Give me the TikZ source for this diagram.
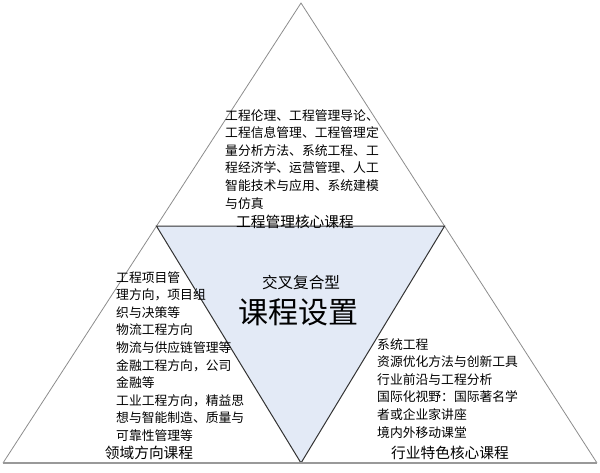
\documentclass[tikz,border=0pt]{standalone}
\usepackage{fontspec}
\setmainfont{Noto Sans CJK SC}
\usepackage{xcolor}
\usepackage{tikz}
\usetikzlibrary{calc}

\definecolor{coreblue}{RGB}{227,234,246}

\begin{document}
\begin{tikzpicture}[
    x=1pt, y=-1pt,
    edge/.style={draw=black!45, line width=0.8pt},
    ground/.style={draw=black!40, line width=1.6pt},
    core/.style={draw=black!80, line width=1pt, fill=coreblue, line join=miter},
    course/.style={anchor=north west, align=left, inner sep=0pt, font=\fontsize{12.8}{17.6}\selectfont},
    caption/.style={inner sep=0pt, font=\fontsize{14.7}{16}\selectfont}
]
\useasboundingbox (0,0) rectangle (600,472);

\coordinate (apex) at (301,3);
\coordinate (baseL) at (3,463);
\coordinate (baseR) at (597,463);
\coordinate (midL) at ($(baseL)!0.515!(apex)$);
\coordinate (midR) at ($(baseR)!0.515!(apex)$);
\coordinate (low) at (301,463);

\draw[edge] (baseL) -- (apex) -- (baseR);
\draw[core] (midL) -- (midR) -- (low) -- cycle;
\draw[ground] (baseL) -- (baseR);

\node[course] (topcourses) at (225,109) {工程伦理、工程管理导论、\\工程信息管理、工程管理定\\量分析方法、系统工程、工\\程经济学、运营管理、人工\\智能技术与应用、系统建模\\与仿真};
\node[caption] (toplabel) at (295,222) {工程管理核心课程};

\node[course] (leftcourses) at (116,271) {工程项目管\\理方向，项目组\\织与决策等\\物流工程方向\\物流与供应链管理等\\金融工程方向，公司\\金融等\\工业工程方向，精益思\\想与智能制造、质量与\\可靠性管理等};
\node[caption] (leftlabel) at (149,453) {领域方向课程};

\node[course] (rightcourses) at (377,338) {系统工程\\资源优化方法与创新工具\\行业前沿与工程分析\\国际化视野：国际著名学\\者或企业家讲座\\境内外移动课堂};
\node[caption] (rightlabel) at (450,453) {行业特色核心课程};

\node[inner sep=0pt, font=\fontsize{15.6}{17}\selectfont] (kind) at (301,283) {交叉复合型};
\node[inner sep=0pt, font=\fontsize{30}{32}\selectfont] (title) at (298,312) {课程设置};

\end{tikzpicture}
\end{document}
